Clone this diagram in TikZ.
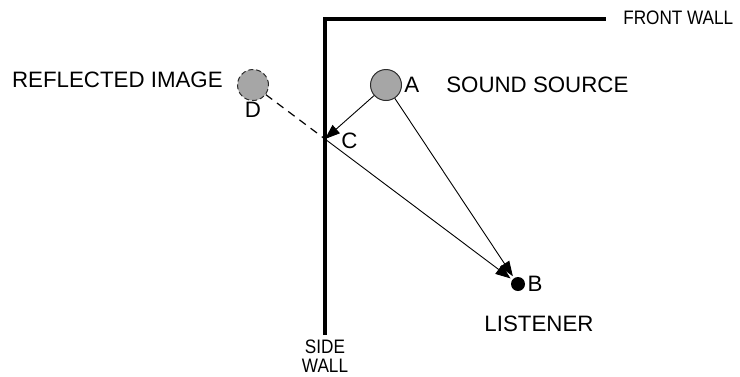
\documentclass[tikz,border=0pt]{standalone}
\usepackage{fontspec}
\setmainfont{Liberation Sans}
\newfontfamily\narrowfont[FakeStretch=0.88]{Liberation Sans}
\usetikzlibrary{arrows.meta,positioning}

\begin{document}
\begin{tikzpicture}[x=1pt,y=-1pt,>={Triangle[length=15pt,width=11pt]},
	every node/.style={font=\fontsize{22.3}{25}\selectfont},
	semithick]
	\tikzstyle{wall}=[line width=3.5pt]
	\tikzstyle{ray}=[line width=0.9pt]
	\tikzstyle{source}=[circle,fill=gray!70,draw=gray!35!black,line width=1pt,minimum size=31pt,inner sep=0pt]
	\tikzstyle{label}=[inner sep=1pt]
	\tikzstyle{walllabel}=[inner sep=0pt,font=\narrowfont\fontsize{19.5}{19}\selectfont]
	\useasboundingbox (0,0) rectangle (740,376);
	% walls
	\coordinate (corner) at (325,19);
	\coordinate (sideend) at (325,335);
	\coordinate (frontend) at (606,19);
	\draw[wall] (sideend) -- (corner) -- (frontend);
	\node[walllabel,anchor=west] (fw) at (623,18) {FRONT WALL};
	\node[walllabel,align=center,anchor=north] (sw) at (325,340) {SIDE\\WALL};
	% sources and listener
	\node[source]         (A) at (386,85) {};
	\node[source,dash pattern=on 5pt off 3pt]  (D) at (253,85) {};
	\node[circle,fill=black,minimum size=14pt,inner sep=0pt] (B) at (518,284) {};
	\coordinate (C) at (325,139);
	\node[label,right=1pt of A]  (la) {A};
	\node[label,below=0pt of D]  (ld) {D};
	\node[label,anchor=north west] (lc) at (340,132) {C};
	\node[label,right=1pt of B]  (lb) {B};
	\node[label,anchor=west] (ss) at (445,85) {SOUND SOURCE};
	\node[label,anchor=east] (ri) at (224,80) {REFLECTED IMAGE};
	\node[label] (li) at (539,324) {LISTENER};
	% paths
	\draw[ray,line width=1.2pt,dash pattern=on 8pt off 6pt] (D) -- (C);
	\draw[->,ray] (A) -- (C);
	\draw[->,ray,shorten >=2pt] (C) -- (B);
	\draw[->,ray,shorten >=2pt] (A) -- (B);
\end{tikzpicture}
\end{document}
